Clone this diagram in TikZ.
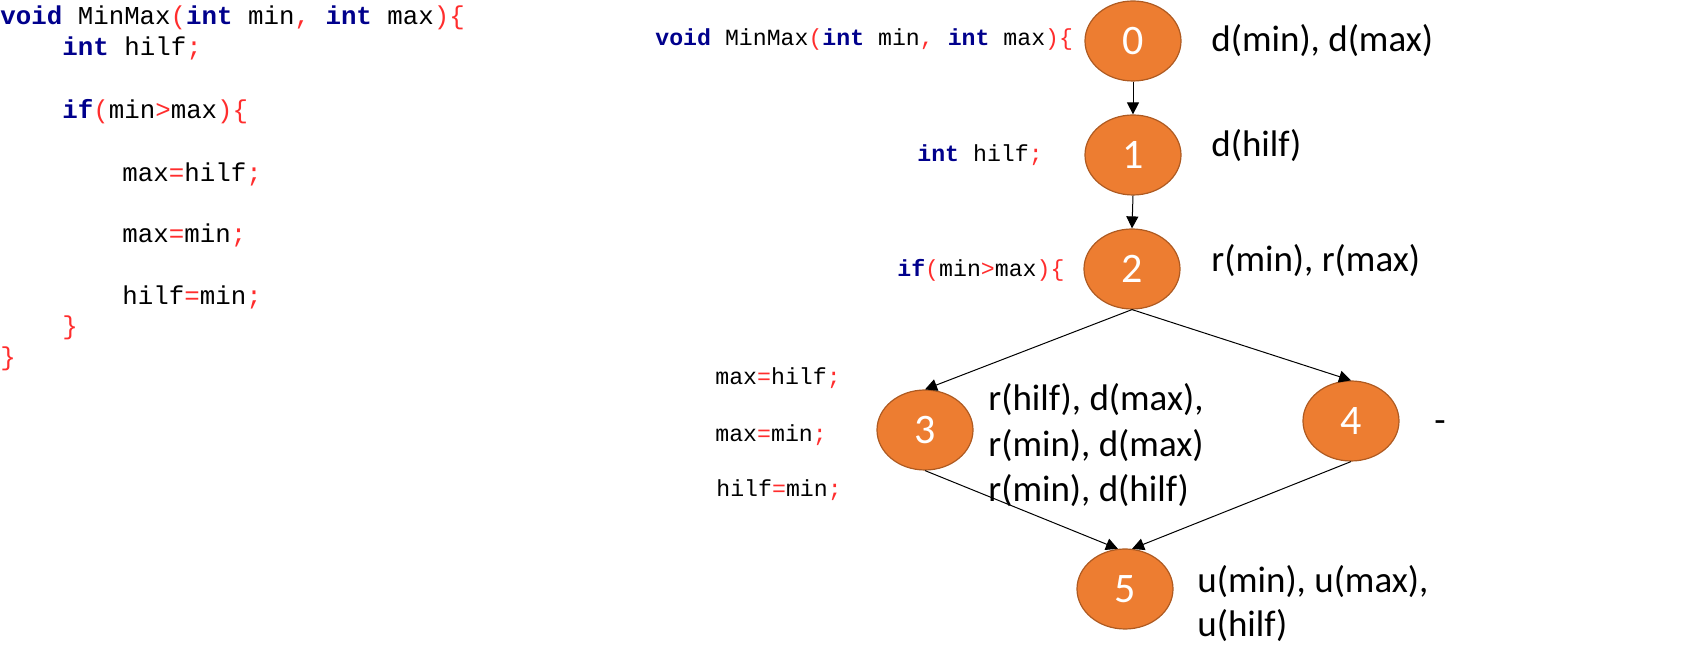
\documentclass[tikz,border=0pt]{standalone}
\usepackage{fontspec}
\setmainfont{Carlito}
\setmonofont{Liberation Mono}
\usetikzlibrary{arrows.meta,shapes.geometric}

% code colouring
\newcommand{\kw}[1]{\textcolor[RGB]{0,0,140}{\textbf{#1}}}
\newcommand{\pc}[1]{\textcolor[RGB]{255,45,45}{#1}}

\begin{document}
\begin{tikzpicture}[x=0.5pt,y=0.5pt,yscale=-1,xscale=1,
  vertex/.style={ellipse,draw={rgb, 255:red, 174; green, 90; blue, 33},line width=0.6pt,
    fill={rgb, 255:red, 237; green, 125; blue, 49},minimum width=48pt,minimum height=40pt,
    inner sep=0pt,text=white,font=\fontsize{21}{24}\selectfont},
  flow/.style={line width=0.5pt,-{Triangle[length=6pt,width=6pt]}},
  usage/.style={anchor=base west,inner sep=0pt,font=\fontsize{18.5}{22}\selectfont},
  codebig/.style={anchor=base west,inner sep=0pt,font=\ttfamily\fontsize{12.9}{15}\selectfont},
  codesmall/.style={anchor=base west,inner sep=0pt,font=\ttfamily\fontsize{11.6}{14}\selectfont}]
\path[use as bounding box] (0,0) rectangle (1705,672);

% Source code (left)
\node[codebig] (srcA) at (0,25) {\kw{void} MinMax\pc{(}\kw{int} min\pc{,} \kw{int} max\pc{)\{}};
\node[codebig] (srcB) at (62,56) {\kw{int} hilf\pc{;}};
\node[codebig] (srcC) at (62,119) {\kw{if}\pc{(}min\pc{>}max\pc{)\{}};
\node[codebig] (srcD) at (122,182) {max\pc{=}hilf\pc{;}};
\node[codebig] (srcE) at (122,243) {max\pc{=}min\pc{;}};
\node[codebig] (srcF) at (122,305) {hilf\pc{=}min\pc{;}};
\node[codebig] (srcG) at (62,335) {\pc{\}}};
\node[codebig] (srcH) at (0,366) {\pc{\}}};

%Shape: Ellipse (control flow graph)
\node[vertex] (n0) at (1133,41) {0};
\node[vertex] (n1) at (1133,155) {1};
\node[vertex] (n2) at (1132,269) {2};
\node[vertex] (n3) at (925,430) {3};
\node[vertex] (n4) at (1351,421) {4};
\node[vertex] (n5) at (1125,589) {5};

%Straight Lines
\draw[flow] (n0.south) -- (n1.north);
\draw[flow] (n1.south) -- (n2.north);
\draw[flow] (n2.south) -- (n3.north);
\draw[flow] (n2.south) -- (n4.north);
\draw[flow] (n3.south) -- (n5.100);
\draw[flow] (n4.south) -- (n5.80);

% Text Node: statements beside the graph
\node[codesmall] (stmt0) at (655,46) {\kw{void} MinMax\pc{(}\kw{int} min\pc{,} \kw{int} max\pc{)\{}};
\node[codesmall] (stmt1) at (917,162) {\kw{int} hilf\pc{;}};
\node[codesmall] (stmt2) at (897,277) {\kw{if}\pc{(}min\pc{>}max\pc{)\{}};
\node[codesmall] (stmt3a) at (715,385) {max\pc{=}hilf\pc{;}};
\node[codesmall] (stmt3b) at (715,442) {max\pc{=}min\pc{;}};
\node[codesmall] (stmt3c) at (716,497) {hilf\pc{=}min\pc{;}};

% Text Node: defs and uses
\node[usage] (use0) at (1211,52) {d(min), d(max)};
\node[usage] (use1) at (1211,157) {d(hilf)};
\node[usage] (use2) at (1211,272) {r(min), r(max)};
\node[usage] (use3a) at (988,411) {r(hilf), d(max),};
\node[usage] (use3b) at (988,457) {r(min), d(max)};
\node[usage] (use3c) at (988,502) {r(min), d(hilf)};
\node[usage] (use4) at (1434,433) {-};
\node[usage] (use5a) at (1197,593) {u(min), u(max),};
\node[usage] (use5b) at (1197,637) {u(hilf)};

\end{tikzpicture}
\end{document}
